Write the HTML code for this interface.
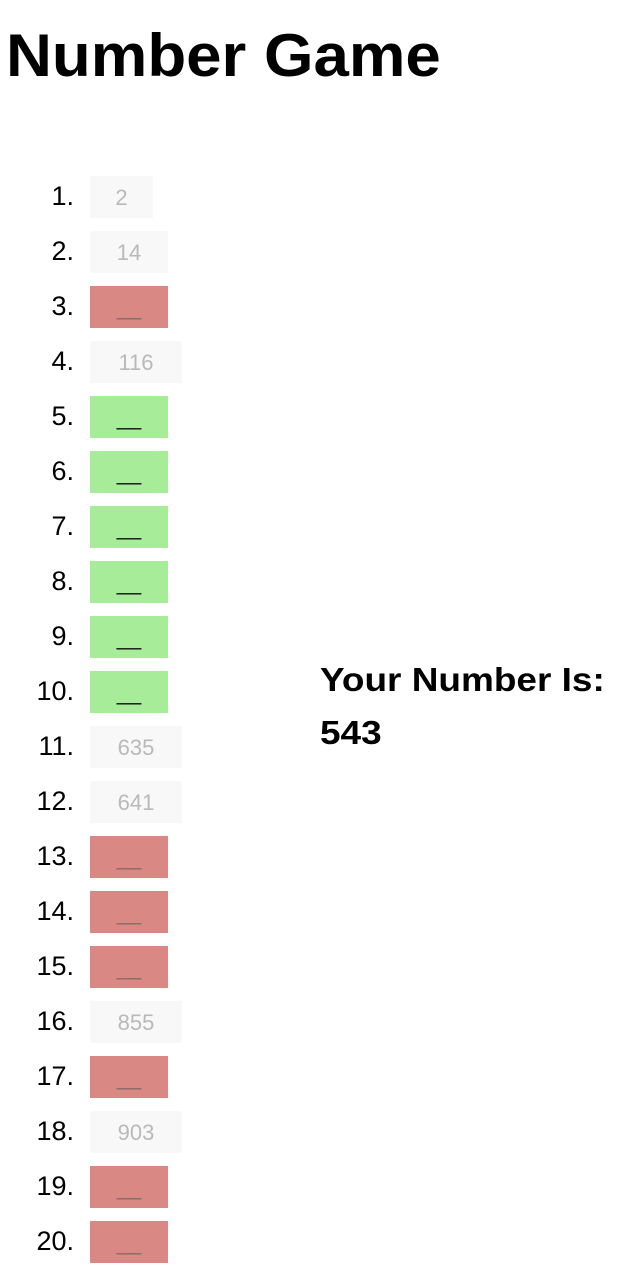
<!DOCTYPE html>
<html><head><meta charset="utf-8">
<style>
body{margin:0;width:620px;height:1284px;background:#fff;font-family:"Liberation Sans",Arial,sans-serif;position:relative;overflow:hidden}
h1{position:absolute;left:6px;top:20px;margin:0;font-size:60px;font-weight:bold;line-height:72px;transform:scaleX(1.06);transform-origin:left top}
.row{position:absolute;left:0;height:42px}
.num{position:absolute;left:0;width:74px;text-align:right;font-size:27px;line-height:42px;top:-1px;color:#000}
.box{position:absolute;left:90px;top:0;height:42px;line-height:44px;font-size:22px;text-align:center;box-sizing:border-box}
.given{background:#f8f8f8;color:#b9b9b9}
.bad{background:#d98883;color:#8a6a68;width:78px}
.good{background:#a6ec99;color:#111;width:78px}
.side{position:absolute;left:320px;font-weight:bold;font-size:33px;line-height:40px;margin:0;transform:scaleX(1.12);transform-origin:left top}
</style></head><body>
<h1>Number Game</h1>
<div id="list"></div>
<div class="side" style="top:660px">Your Number Is:</div>
<div class="side" style="top:713px">543</div>
<script>
const slotValues=["2","14","","116","","","","","","","635","641","","","","855","","903","",""];
const slotStates=["given","given","bad","given","good","good","good","good","good","good","given","given","bad","bad","bad","given","bad","given","bad","bad"];
const list=document.getElementById('list');
slotValues.forEach((v,i)=>{
  const row=document.createElement('div');
  row.className='row';
  row.style.top=(176+i*55)+'px';
  row.style.width='200px';
  
  
  const n=document.createElement('div');
  n.className='num';
  n.textContent=(i+1)+'.';
  
  
  const b=document.createElement('div');
  const st=slotStates[i];
  b.className='box '+st;
  if(st==='given'){
    b.textContent=v;
    b.style.width=(v.length===1?63:v.length===2?78:92)+'px';
  } else {
    b.textContent='__';
  }
  
  
  row.appendChild(n);row.appendChild(b);list.appendChild(row);
});
</script>
</body></html>
